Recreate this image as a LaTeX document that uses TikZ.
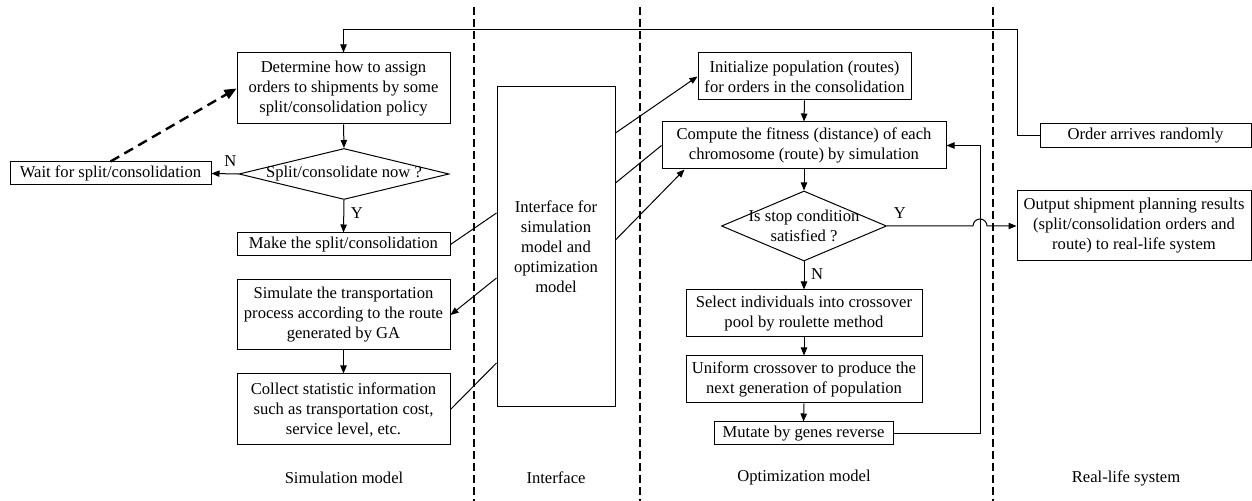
\documentclass[tikz,border=0pt]{standalone}
\usepackage{fontspec}
\setmainfont{Liberation Serif}
\usetikzlibrary{shapes.geometric,arrows.meta}

\begin{document}
\begin{tikzpicture}[x=0.5pt,y=-0.5pt,font=\fontsize{8.3}{10}\selectfont,
  box/.style={draw,line width=0.5pt,align=center,inner sep=0pt},
  decide/.style={draw,diamond,line width=0.5pt,inner sep=0pt},
  arr/.style={-{Triangle[length=4pt,width=3.2pt]},line width=0.5pt},
  lane/.style={line width=0.8pt,dash pattern=on 4pt off 2pt}]
\useasboundingbox (0,0) rectangle (1252,501);
\foreach \x in {474,640,993} {\draw[lane] (\x,7)--(\x,501);}
\node[box,minimum width=106.5pt,minimum height=35.5pt] (det) at (343.5,88.5) {Determine how to assign\\orders to shipments by some\\split/consolidation policy};
\node[decide,minimum width=105pt,minimum height=25.5pt,label={[align=center]center:Split/consolidate now ?}] (split) at (344,174) {};
\node[box,minimum width=100.5pt,minimum height=11.5pt] (wait) at (110.5,173.5) {Wait for split/consolidation};
\node[box,minimum width=106.5pt,minimum height=11.5pt] (make) at (343.5,244.5) {Make the split/consolidation};
\node[box,minimum width=106.5pt,minimum height=35pt] (sim) at (343.5,315) {Simulate the transportation\\process according to the route\\generated by GA};
\node[box,minimum width=106.5pt,minimum height=35.5pt] (coll) at (343.5,409.5) {Collect statistic information\\such as transportation cost,\\service level, etc.};
\node[box,minimum width=59pt,minimum height=160pt] (iface) at (556,247) {Interface for\\simulation\\model and\\optimization\\model};
\node[box,minimum width=106.5pt,minimum height=23.5pt] (init) at (804.5,76.5) {Initialize population (routes)\\for orders in the consolidation};
\node[box,minimum width=142pt,minimum height=23.5pt] (comp) at (804,145.5) {Compute the fitness (distance) of each\\chromosome (route) by simulation};
\node[decide,minimum width=82.5pt,minimum height=35pt,label={[align=center]center:{Is stop condition\\satisfied ?}}] (stop) at (804,226) {};
\node[box,minimum width=118pt,minimum height=23.5pt] (sel) at (804,313.5) {Select individuals into crossover\\pool by roulette method};
\node[box,minimum width=118pt,minimum height=23.5pt] (unif) at (804,379.5) {Uniform crossover to produce the\\next generation of population};
\node[box,minimum width=89.5pt,minimum height=11.5pt] (mut) at (803.5,433.5) {Mutate by genes reverse};
\node[box,minimum width=105.5pt,minimum height=12pt] (order) at (1145.5,136) {Order arrives randomly};
\node[box,minimum width=117pt,minimum height=35pt] (out) at (1134,226) {Output shipment planning results\\(split/consolidation orders and\\route) to real-life system};
\node (simlab) at (344,478) {Simulation model};
\node (iflab) at (556,478) {Interface};
\node (optlab) at (804,478) {Optimization model};
\node (reallab) at (1126,478) {Real-life system};
\coordinate (top) at (1017,30);
\coordinate (fb) at (980,433.5);
\coordinate (jmp) at (973,226);
\draw[arr] (order.west) -| (top) -| (det.north);
\draw[arr] (det.south) -- (split.north);
\draw[arr] (split.west) -- node[above,pos=0.3] (nsplit) {N} (wait.east);
\draw[-{Triangle[length=6pt,width=5pt]},line width=1.2pt,dash pattern=on 5pt off 3pt] (wait.north) -- (det.west);
\draw[arr] (split.south) -- node[right,pos=0.4] (ysplit) {Y} (make.north);
\draw[arr] (sim.south) -- (coll.north);
\draw[line width=0.5pt] (make.east) -- ([yshift=17pt]iface.west);
\draw[arr] ([yshift=-15.5pt]iface.west) -- (sim.east);
\draw[line width=0.5pt] (coll.east) -- ([yshift=-58pt]iface.west);
\draw[arr] ([yshift=57pt]iface.east) -- (init.west);
\draw[line width=0.5pt] (comp.west) -- ([yshift=32pt]iface.east);
\draw[arr] ([yshift=3.5pt]iface.east) -- ([xshift=11.5pt]comp.south west);
\draw[arr] (init.south) -- (comp.north);
\draw[arr] (comp.south) -- (stop.north);
\draw[arr] (stop.south) -- node[right,pos=0.45] (nstop) {N} (sel.north);
\draw[arr] (sel.south) -- (unif.north);
\draw[arr] (unif.south) -- (mut.north);
\draw[arr] (mut.east) -- (fb) |- (comp.east);
\draw[arr] (stop.east) -- node[above,pos=0.15] (ystop) {Y} (jmp) arc[start angle=180,end angle=0,radius=3.5pt] -- (out.west);
\end{tikzpicture}
\end{document}
